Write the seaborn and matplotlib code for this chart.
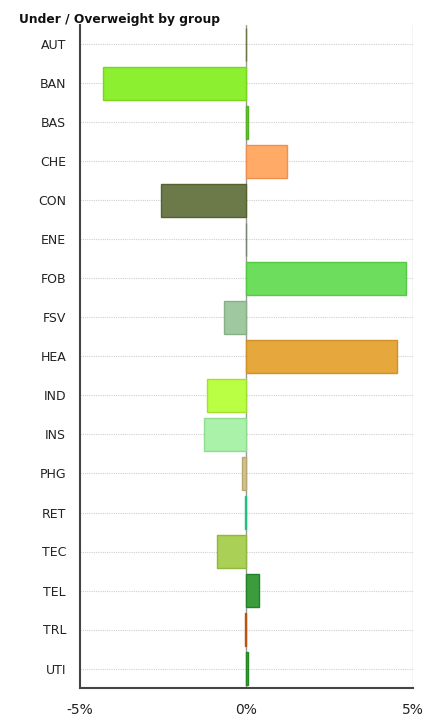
import matplotlib
matplotlib.use("Agg")
import matplotlib.pyplot as plt
import seaborn as sns
import pandas as pd

# Данные
groups = ['AUT', 'BAN', 'BAS', 'CHE', 'CON', 'ENE', 'FOB', 'FSV', 'HEA',
          'IND', 'INS', 'PHG', 'RET', 'TEC', 'TEL', 'TRL', 'UTI']
weights = [-0.03, -4.32, 0.05, 1.22, -2.58, -0.01, 4.80, -0.68, 4.52,
           -1.18, -1.28, -0.15, -0.04, -0.90, 0.38, -0.05, 0.05]
colors = ['#7f8a5a', '#8cf030', '#66cc33', '#ffaa66', '#6b7a48', '#8a9a8a',
          '#6ddd5e', '#a0c8a0', '#e6a83c', '#bbff44', '#aaf2aa', '#d2c38c',
          '#33dd99', '#aad055', '#3c9c3c', '#d2691e', '#33aa33']
edges = ['#6b7548', '#7ad41e', '#55b022', '#f09050', '#55622f', '#778877',
         '#55c845', '#88b088', '#d0902a', '#a0e030', '#90dc90', '#b8a870',
         '#22c080', '#90b840', '#22822a', '#b85510', '#228822']

df = pd.DataFrame({'group': groups, 'weight': weights})

sns.set_style("white")
plt.rcParams['font.family'] = ['DejaVu Sans']

fig = plt.figure(figsize=(4.34, 7.18), dpi=100)
ax = fig.add_axes([80 / 434, 1 - 688 / 718, 333 / 434, 663 / 718])

sns.barplot(data=df, x='weight', y='group', hue='group', palette=colors,
            order=groups, orient='h', width=0.85, legend=False, ax=ax,
            linewidth=1, saturation=1)
for patch, ec in zip(ax.patches, edges):
    patch.set_edgecolor(ec)

ax.set_xlim(-5, 5)
ax.set_ylim(16.5, -0.5)
ax.set_xticks([-5, 0, 5])
ax.set_xticklabels(['-5%', '0%', '5%'], fontsize=10)
ax.tick_params(axis='x', length=4.3, width=1, pad=6.5, colors='#333333',
               labelcolor='#222222')
ax.tick_params(axis='y', length=5, width=1, pad=5, labelsize=9,
               colors='#333333', labelcolor='#222222')
ax.set_xlabel('')
ax.set_ylabel('')

# Сетка
for i in range(len(groups)):
    ax.axhline(i, color='#d0d0d0', lw=0.8, ls=(0, (1, 1)), zorder=0)
ax.axvline(5, color='#d0d0d0', lw=1, zorder=0)
ax.axvline(0, color='#999999', lw=1, zorder=0.5)

for s in ['top', 'right']:
    ax.spines[s].set_visible(False)
ax.spines['left'].set_color('#444444')
ax.spines['bottom'].set_color('#444444')
ax.spines['left'].set_linewidth(1.5)
ax.spines['bottom'].set_linewidth(1.5)

fig.text(19 / 434, 1 - 19 / 718, 'Under / Overweight by group',
         fontsize=8.8, fontweight='bold', va='center', ha='left', color='#111111')

fig.savefig('out.png', dpi=100)
